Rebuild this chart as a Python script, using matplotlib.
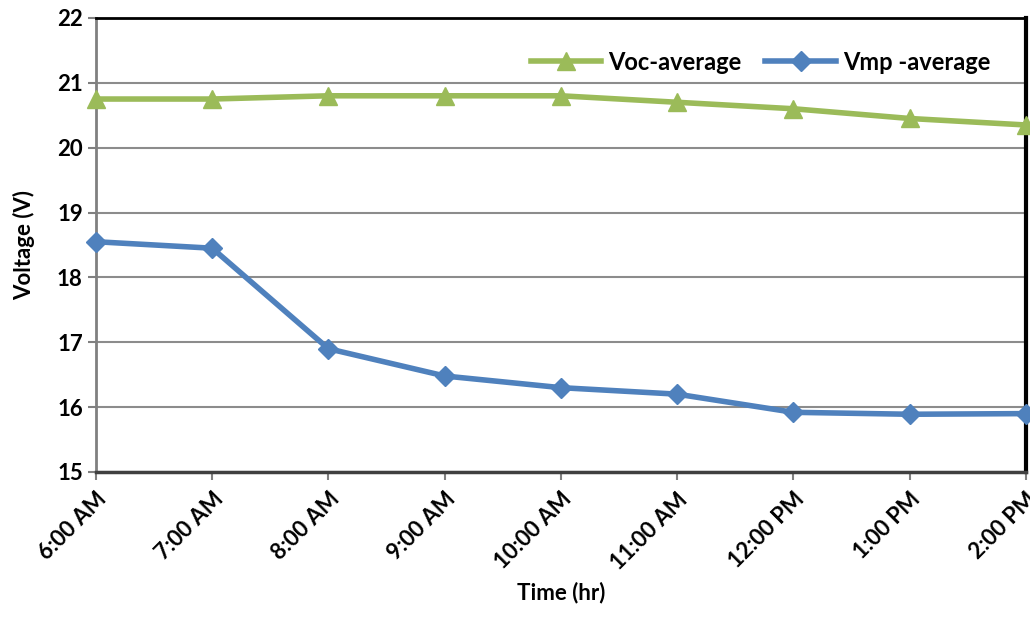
import matplotlib
matplotlib.use("Agg")
from matplotlib import pyplot as plt

times = ["6:00 AM", "7:00 AM", "8:00 AM", "9:00 AM", "10:00 AM",
         "11:00 AM", "12:00 PM", "1:00 PM", "2:00 PM"]
voc_average = [20.75, 20.75, 20.80, 20.80, 20.80, 20.70, 20.60, 20.45, 20.35]
vmp_average = [18.55, 18.45, 16.90, 16.48, 16.30, 16.20, 15.92, 15.89, 15.90]

plt.rcParams['font.family'] = ['Lato', 'DejaVu Sans']
plt.rcParams['font.weight'] = 'bold'

fig = plt.figure(figsize=(10.30, 6.19), dpi=100)
ax = fig.add_axes([0.0932, 0.2375, 0.9028, 0.7335])

x = list(range(len(times)))
ax.plot(x, voc_average, color="#9BBB59", lw=4, marker="^", markersize=13,
        label="Voc-average", clip_on=False, zorder=3)
ax.plot(x, vmp_average, color="#4F81BD", lw=4, marker="D", markersize=10,
        label="Vmp -average", clip_on=False, zorder=3)

ax.set_xlim(0, len(times) - 1)
ax.set_ylim(15, 22)
ax.set_yticks(range(15, 23))
ax.set_xticks(x)
ax.set_xticklabels(times, rotation=45, ha="right", rotation_mode="anchor",
                   fontsize=16, fontweight="bold")
ax.tick_params(axis="y", labelsize=16, length=6, color="#808080", width=1.5)
ax.tick_params(axis="x", length=6, color="#808080", width=1.5, pad=6)
for lab in ax.get_yticklabels():
    lab.set_fontweight("bold")

ax.grid(axis="y", color="#8C8C8C", lw=1.5)
ax.set_axisbelow(True)

ax.spines["left"].set_color("#808080")
ax.spines["left"].set_linewidth(2)
ax.spines["bottom"].set_color("#404040")
ax.spines["bottom"].set_linewidth(2.5)
ax.spines["top"].set_color("black")
ax.spines["top"].set_linewidth(2)
ax.spines["right"].set_color("black")
ax.spines["right"].set_linewidth(3)

ax.set_xlabel("Time (hr)", fontsize=16, fontweight="bold", labelpad=6)
ax.set_ylabel("Voltage (V)", fontsize=16, fontweight="bold", labelpad=16)

ax.legend(loc="upper right", bbox_to_anchor=(0.985, 0.975), ncol=2,
          frameon=False, handlelength=3, columnspacing=1.0,
          handletextpad=0.3, prop={"weight": "bold", "size": 17})

fig.savefig("out.png", dpi=100)
